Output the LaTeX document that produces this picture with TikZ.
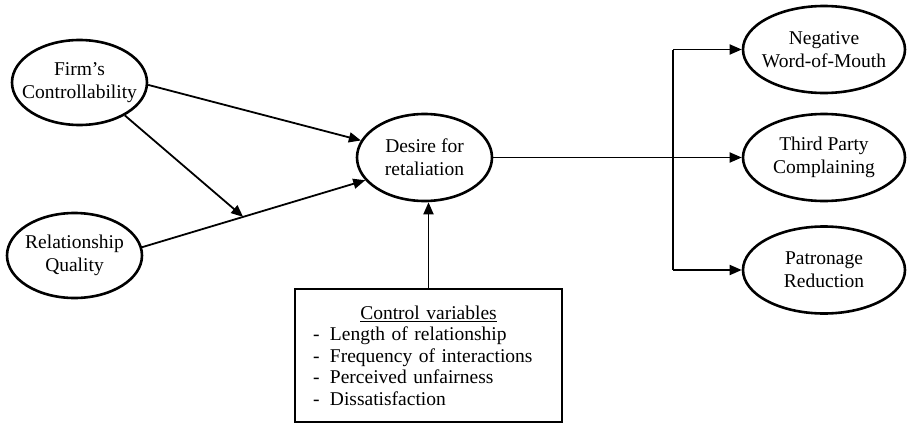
\documentclass[tikz,border=0pt]{standalone}
\usepackage{fontspec}
\setmainfont{Liberation Serif}
\usetikzlibrary{shapes.geometric,arrows.meta}
\begin{document}
\begin{tikzpicture}[x=1pt,y=-1pt,
  every node/.style={font=\fontsize{19.5}{23}\selectfont},
  ctext/.style={align=center,inner sep=0pt},
  construct/.style={ellipse,draw,line width=2.6pt,inner sep=0pt,
    minimum width=135pt,minimum height=85pt,label={[ctext]center:#1}},
  outcome/.style={construct={#1},minimum width=162pt,minimum height=87pt},
  link/.style={line width=1.8pt,-{Triangle[length=12pt,width=10pt]}},
  plain/.style={line width=1.8pt},
  ctrlbox/.style={draw,line width=1.5pt,rectangle,minimum width=267pt,minimum height=133pt,
    inner xsep=18pt,text width=231pt,align=left,font=\fontsize{19.5}{21.5}\selectfont}]
\useasboundingbox (0,0) rectangle (908,423);
\node[construct={Firm’s\\Controllability}] (firm) at (79.5,82.5) {};
\node[construct={Relationship\\Quality}] (rq) at (74.5,255.5) {};
\node[construct={Desire for\\retaliation},minimum height=87pt] (desire) at (424.5,157.5) {};
\node[outcome={Negative\\Word-of-Mouth}] (nwom) at (824,49.5) {};
\node[outcome={Third Party\\Complaining}] (tpc) at (824,157.5) {};
\node[outcome={Patronage\\Reduction}] (pr) at (824,270) {};
\node[ctrlbox] (ctrl) at (428.5,355.5) {\makebox[231pt][c]{\underline{Control variables}}\\
\makebox[17pt][l]{-}Length of relationship\\
\makebox[17pt][l]{-}Frequency of interactions\\
\makebox[17pt][l]{-}Perceived unfairness\\
\makebox[17pt][l]{-}Dissatisfaction};
\coordinate (split) at (673,157.5);
% connectors
\draw[link] (firm.-2) -- (desire.165);
\draw[link] (rq.7) -- coordinate[pos=0.453] (mid) (desire.201);
\draw[link] (firm.-36) -- (mid);
\draw[link] (ctrl.north) -- (ctrl.north |- desire.south);
\draw[plain] (desire.east) -- (split);
\draw[plain] (split |- nwom.west) -- (split |- pr.west);
\draw[link] (split |- nwom.west) -- (nwom.west);
\draw[link] (split) -- (tpc.west);
\draw[link] (split |- pr.west) -- (pr.west);
\end{tikzpicture}
\end{document}
